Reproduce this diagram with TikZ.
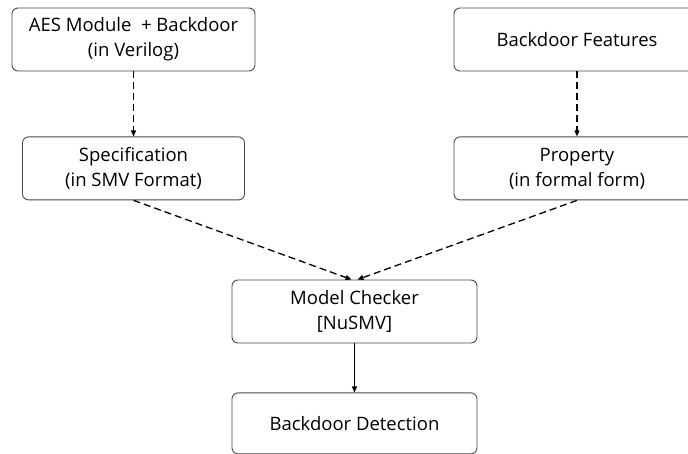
\documentclass[tikz,border=0pt]{standalone}
\usepackage{fontspec}
\setmainfont{Open Sans}
\usetikzlibrary{positioning, arrows.meta}
\definecolor{boxline}{HTML}{4A4A4A}

\begin{document}
\begin{tikzpicture}[x=1pt,y=1pt,>={Triangle[length=6pt,width=5pt]},
  node distance=65pt,
  box/.style={draw=boxline,line width=0.9pt,rounded corners=6pt,
              minimum height=63pt,align=center,
              font=\fontsize{18.5}{25}\selectfont},
  dasharrow/.style={->,line width=1.3pt,dash pattern=on 7pt off 4pt},
  solidarrow/.style={->,line width=1.3pt}]
  \useasboundingbox (0,0) rectangle (688,-454);
  \clip (0,0) rectangle (688,-454);
  \node[box,minimum width=243pt] (aes) at (133.5,-39.5) {AES Module\ \ + Backdoor\\(in Verilog)};
  \node[box,minimum width=222pt,below=of aes] (spec) {Specification\\(in SMV Format)};
  \node[box,minimum width=246pt] (feat) at (577,-39.5) {Backdoor Features};
  \node[box,minimum width=246pt,below=of feat] (prop) {Property\\(in formal form)};
  \node[box,minimum width=245pt] (check) at (354.5,-311.5) {Model Checker\\{}[NuSMV]};
  \node[box,minimum width=245pt,minimum height=61pt,below=49pt of check] (detect) {Backdoor Detection};
  \draw[dasharrow] (aes) -- (spec);
  \draw[dasharrow] (feat) -- (prop);
  \draw[dasharrow] (spec.south) -- ([xshift=-3pt]check.north);
  \draw[dasharrow] (prop.south) -- ([xshift=3pt]check.north);
  \draw[solidarrow] (check) -- (detect);
\end{tikzpicture}
\end{document}
